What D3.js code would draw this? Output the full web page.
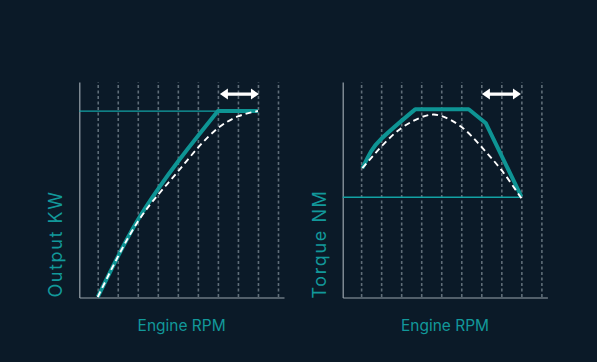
<!DOCTYPE html>
<html>
<head>
<meta charset="utf-8">
<script src="https://cdn.jsdelivr.net/npm/d3@7"></script>
<style>
  body { margin: 0; background: #0b1a28; }
  svg { display: block; }
  .label { fill: #12989a; font-family: Inter, "Open Sans", sans-serif; }
</style>
</head>
<body>
<div class="chart"></div>
<script>
var svgWidth = 597;
var svgHeight = 362;

// gridline positions (rpm steps)
var gridSteps = [1, 2, 3, 4, 5, 6, 7, 8, 9, 10];

// output power, kW (relative units)
var powerMax = 86.5;
var powerSolidX = [1, 2, 3, 4, 5, 6, 7];
var powerSolidY = [0, 18.7, 35.8, 50.1, 62.9, 74.9, 86.5];
var powerFlatX = [7, 9];
var powerDashX = [1, 2, 3, 4, 5, 6, 7, 8, 9];
var powerDashY = [0, 18.6, 35.0, 47.4, 58.3, 69.4, 78.5, 84.0, 86.5];
var powerArrow = [7.1, 9.05];

// torque, Nm (relative units)
var torqueMin = 46.4;
var torqueCurveX = [1.06, 1.5, 2, 3, 3.7];
var torqueCurveY = [59.9, 67.8, 73.5, 81.8, 87.3];
var torqueLineX = [3.7, 6.37, 7.23, 9];
var torqueLineY = [87.3, 87.3, 80.8, 46.7];
var torqueDashX = [1.06, 2, 3, 4, 4.5, 5, 6, 7, 8, 9];
var torqueDashY = [59.9, 69.9, 78.5, 83.6, 84.8, 84.2, 79.2, 69.9, 59.1, 45.9];
var torqueArrow = [7.03, 8.98];
var arrowLevel = 94.4;

var svg = d3.select(".chart")
  .append("svg")
  .attr("width", svgWidth)
  .attr("height", svgHeight);

var yScale = d3.scaleLinear().domain([0, 100]).range([297, 82]);

function zip(xs, ys) {
  return xs.map(function(x, i) { return [x, ys[i]]; });
}

function drawPanel(left, opts) {
  var x = d3.scaleLinear().domain([0.08, 10.3]).range([left, left + 204.7]);

  // dashed gridlines
  var grid = svg.append("g")
    .attr("transform", "translate(0, 297)")
    .call(d3.axisBottom(x).tickValues(gridSteps).tickSize(-215).tickFormat(""));
  grid.select(".domain").remove();
  grid.selectAll(".tick line")
    .attr("stroke", "#5f6d78")
    .attr("stroke-width", 1.6)
    .attr("stroke-dasharray", "3,2.5");

  // axes
  var xAxis = svg.append("g")
    .attr("transform", "translate(0, 297.5)")
    .call(d3.axisBottom(x).ticks(0).tickSizeOuter(0));
  xAxis.select(".domain").attr("stroke", "#9aa4ac").attr("stroke-width", 1.2);

  var yAxis = svg.append("g")
    .attr("transform", `translate(${x(0.08)}, 0)`)
    .call(d3.axisLeft(d3.scaleLinear().range([297.5, 82])).ticks(0).tickSizeOuter(0));
  yAxis.select(".domain").attr("stroke", "#9aa4ac").attr("stroke-width", 1.2);

  // reference line
  svg.append("line")
    .attr("x1", x(0.08))
    .attr("x2", x(9))
    .attr("y1", yScale(opts.ref))
    .attr("y2", yScale(opts.ref))
    .attr("stroke", "#12a2a4")
    .attr("stroke-width", 1.3);

  var curved = d3.line()
    .x(d => x(d[0]))
    .y(d => yScale(d[1]))
    .curve(d3.curveNatural);
  var straight = d3.line()
    .x(d => x(d[0]))
    .y(d => yScale(d[1]));

  svg.append("path")
    .attr("d", curved(opts.curve) + straight(opts.lines).replace("M", "L"))
    .attr("fill", "none")
    .attr("stroke", "#0e9494")
    .attr("stroke-width", 4)
    .attr("stroke-linejoin", "round");

  svg.append("path")
    .attr("d", curved(opts.dash))
    .attr("fill", "none")
    .attr("stroke", "#ffffff")
    .attr("stroke-width", 1.9)
    .attr("stroke-dasharray", "6,4");

  // double-headed range arrow
  var ax0 = x(opts.arrow[0]), ax1 = x(opts.arrow[1]), ay = yScale(arrowLevel);
  var hl = 8, hw = 5.5, sw = 1.6;
  svg.append("path")
    .attr("d", `M${ax0},${ay} L${ax0 + hl},${ay - hw} L${ax0 + hl},${ay - sw}
      L${ax1 - hl},${ay - sw} L${ax1 - hl},${ay - hw} L${ax1},${ay}
      L${ax1 - hl},${ay + hw} L${ax1 - hl},${ay + sw} L${ax0 + hl},${ay + sw}
      L${ax0 + hl},${ay + hw} Z`)
    .attr("fill", "#ffffff");

  // axis labels
  svg.append("text")
    .attr("class", "label")
    .attr("x", (x(0.08) + x(10.3)) / 2)
    .attr("y", 330.5)
    .attr("text-anchor", "middle")
    .style("font-size", "15.5px")
    .text("Engine RPM");

  svg.append("text")
    .attr("class", "label")
    .attr("transform", `translate(${left - 17}, 244) rotate(-90)`)
    .attr("text-anchor", "middle")
    .style("font-size", "18px")
    .style("letter-spacing", "1.6px")
    .text(opts.title);
}

drawPanel(79.3, {
  ref: powerMax,
  curve: zip(powerSolidX, powerSolidY),
  lines: zip(powerFlatX, [powerMax, powerMax]),
  dash: zip(powerDashX, powerDashY),
  arrow: powerArrow,
  title: "Output KW"
});

drawPanel(342.7, {
  ref: torqueMin,
  curve: zip(torqueCurveX, torqueCurveY),
  lines: zip(torqueLineX, torqueLineY),
  dash: zip(torqueDashX, torqueDashY),
  arrow: torqueArrow,
  title: "Torque NM"
});
</script>
</body>
</html>
